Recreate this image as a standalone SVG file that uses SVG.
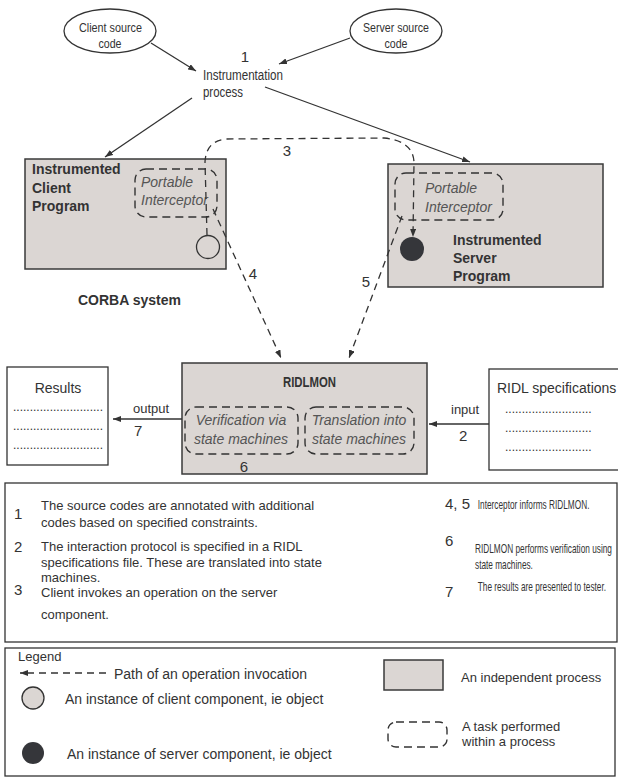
<svg xmlns="http://www.w3.org/2000/svg" width="618" height="780" viewBox="0 0 618 780">
<style>
text{font-family:"Liberation Sans",Arial,sans-serif;fill:#333;}
.t12{font-size:12px;}
.t13{font-size:13px;}
.t14{font-size:14px;}
.b{font-size:14px;font-weight:bold;}
.it{font-size:14px;font-style:italic;fill:#555;}
.num{font-size:15px;}
.dots{font-size:12px;}
.proc{fill:#dbd6d3;stroke:#3a3a3a;stroke-width:1.5;}
.plain{fill:#fff;stroke:#333;stroke-width:1.3;}
.task{fill:none;stroke:#333;stroke-width:1.4;stroke-dasharray:8 5;}
.flow{fill:none;stroke:#333;stroke-width:1.3;}
.dash{fill:none;stroke:#333;stroke-width:1.3;stroke-dasharray:7 5;}
</style>
<defs>
<marker id="ah" markerWidth="8" markerHeight="6" refX="8" refY="3" orient="auto" markerUnits="userSpaceOnUse">
<path d="M0,0 L8,3 L0,6 Z" fill="#333"/>
</marker>
</defs>

<g id="client-source">
<ellipse cx="110" cy="31" rx="46" ry="22" class="plain"/>
<text class="t13" x="79" y="32" textLength="63" lengthAdjust="spacingAndGlyphs">Client source</text>
<text class="t13" x="98.5" y="48" textLength="23" lengthAdjust="spacingAndGlyphs">code</text>
</g>
<g id="server-source">
<ellipse cx="396" cy="31" rx="46" ry="22" class="plain"/>
<text class="t13" x="363" y="32" textLength="66" lengthAdjust="spacingAndGlyphs">Server source</text>
<text class="t13" x="384.5" y="48" textLength="23" lengthAdjust="spacingAndGlyphs">code</text>
</g>
<g id="instrumentation">
<text class="num" x="245" y="62" text-anchor="middle">1</text>
<text class="t14" x="203" y="80" textLength="80" lengthAdjust="spacingAndGlyphs">Instrumentation</text>
<text class="t14" x="203" y="97" textLength="40" lengthAdjust="spacingAndGlyphs">process</text>
</g>

<g id="client-program">
<rect x="25" y="159" width="201" height="110" class="proc"/>
<text class="b" x="32" y="174">Instrumented</text>
<text class="b" x="32" y="193">Client</text>
<text class="b" x="32" y="211">Program</text>
<rect x="135" y="169" width="82" height="48" rx="11" class="task"/>
<text class="it" x="141" y="187">Portable</text>
<text class="it" x="141" y="205">Interceptor</text>
<circle cx="208" cy="247" r="11.5" fill="#dbd6d3" stroke="#333" stroke-width="1.3"/>
</g>

<g id="server-program">
<rect x="388" y="164" width="215" height="123" class="proc"/>
<rect x="395" y="173" width="108" height="47" rx="11" class="task"/>
<text class="it" x="425" y="193">Portable</text>
<text class="it" x="425" y="212">Interceptor</text>
<circle cx="412" cy="249" r="12" fill="#35363a"/>
<text class="b" x="453" y="245">Instrumented</text>
<text class="b" x="453" y="263">Server</text>
<text class="b" x="453" y="281">Program</text>
</g>

<g id="corba-label">
<text class="b" x="78" y="305">CORBA system</text>
</g>

<g id="ridlmon">
<rect x="182" y="363" width="245" height="111" class="proc"/>
<text class="b" x="283" y="387" textLength="53" lengthAdjust="spacingAndGlyphs">RIDLMON</text>
<rect x="185" y="407" width="113" height="47" rx="11" class="task"/>
<text class="it" x="241" y="425" text-anchor="middle">Verification via</text>
<text class="it" x="241" y="444" text-anchor="middle">state machines</text>
<rect x="305" y="407" width="109" height="47" rx="11" class="task"/>
<text class="it" x="359" y="425" text-anchor="middle">Translation into</text>
<text class="it" x="359" y="444" text-anchor="middle">state machines</text>
<text class="num" x="244" y="472" text-anchor="middle">6</text>
</g>

<g id="results">
<rect x="7" y="367" width="101" height="98" class="plain"/>
<text class="t14" x="58" y="393" text-anchor="middle">Results</text>
<text class="dots" x="13" y="411">...........................</text>
<text class="dots" x="13" y="430">...........................</text>
<text class="dots" x="13" y="449">...........................</text>
</g>

<g id="ridl-spec">
<rect x="489" y="369" width="140" height="101" class="plain"/>
<text class="t14" x="497" y="393">RIDL specifications</text>
<text class="dots" x="505" y="413">..........................</text>
<text class="dots" x="505" y="432">..........................</text>
<text class="dots" x="505" y="451">..........................</text>
</g>

<g id="connectors">
<line x1="151" y1="43" x2="196" y2="71" class="flow" marker-end="url(#ah)"/>
<line x1="350" y1="38" x2="279" y2="64" class="flow" marker-end="url(#ah)"/>
<line x1="192" y1="98" x2="105" y2="157" class="flow" marker-end="url(#ah)"/>
<line x1="265" y1="87" x2="470" y2="162" class="flow" marker-end="url(#ah)"/>
<path d="M207,235 L205,162 Q206,141 226,139 L384,138 Q413,141 414,162 L413,237" class="dash" marker-end="url(#ah)"/>
<text class="num" x="287" y="156" text-anchor="middle">3</text>
<path d="M213,209 L281,358" class="dash" marker-end="url(#ah)"/>
<text class="num" x="253" y="279" text-anchor="middle">4</text>
<path d="M402,216 L349,358" class="dash" marker-end="url(#ah)"/>
<text class="num" x="366" y="287" text-anchor="middle">5</text>
<line x1="182" y1="419" x2="113" y2="419" class="flow" marker-end="url(#ah)"/>
<text class="t13" x="133" y="413">output</text>
<text class="num" x="134" y="436">7</text>
<line x1="489" y1="424" x2="429" y2="424" class="flow" marker-end="url(#ah)"/>
<text class="t13" x="451" y="414">input</text>
<text class="num" x="459" y="441">2</text>
</g>

<g id="description">
<rect x="5" y="483" width="612" height="159" fill="#fff" stroke="#333" stroke-width="1.3"/>
<text class="num" x="14" y="519">1</text>
<text class="t13" x="41" y="510">The source codes are annotated with additional</text>
<text class="t13" x="41" y="527">codes based on specified constraints.</text>
<text class="num" x="14" y="552">2</text>
<text class="t13" x="41" y="551">The interaction protocol is specified in a RIDL</text>
<text class="t13" x="41" y="567">specifications file. These are translated into state</text>
<text class="t13" x="41" y="582">machines.</text>
<text class="num" x="14" y="595">3</text>
<text class="t13" x="41" y="597">Client invokes an operation on the server</text>
<text class="t13" x="41" y="619">component.</text>
<text class="num" x="445" y="509" font-size="16">4, 5</text>
<text class="num" x="445" y="546">6</text>
<text class="num" x="445" y="597">7</text>
<g transform="translate(475,0) scale(0.69,1)">
<text class="t12" x="4" y="509">Interceptor informs RIDLMON.</text>
<text class="t12" x="0" y="553">RIDLMON performs verification using</text>
<text class="t12" x="0" y="569">state machines.</text>
<text class="t12" x="4" y="591">The results are presented to tester.</text>
</g>
</g>

<g id="legend">
<rect x="5" y="648" width="610" height="128" fill="#fff" stroke="#333" stroke-width="1.3"/>
<text class="t13" x="18" y="661">Legend</text>
<line x1="106" y1="673" x2="20" y2="673" class="dash" marker-end="url(#ah)"/>
<text class="t14" x="114" y="679">Path of an operation invocation</text>
<circle cx="33" cy="698" r="11" fill="#dbd6d3" stroke="#333" stroke-width="1.3"/>
<text class="t14" x="65" y="704">An instance of client component, ie object</text>
<circle cx="33" cy="753" r="11" fill="#35363a"/>
<text class="t14" x="67" y="759">An instance of server component, ie object</text>
<rect x="384" y="660" width="59" height="30" class="proc"/>
<text class="t13" x="461" y="682">An independent process</text>
<rect x="388" y="722" width="59" height="25" rx="8" class="task"/>
<text class="t13" x="462" y="731">A task performed</text>
<text class="t13" x="462" y="746">within a process</text>
</g>
</svg>
